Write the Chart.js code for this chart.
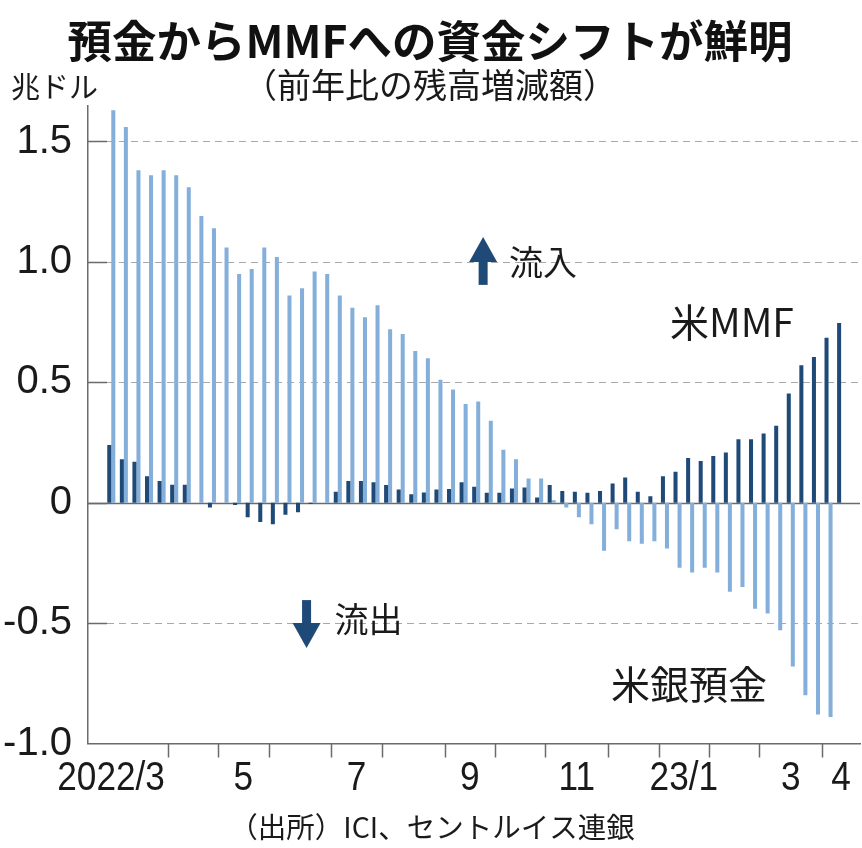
<!DOCTYPE html>
<html lang="ja">
<head>
<meta charset="utf-8">
<title>預金からMMFへの資金シフトが鮮明</title>
<script src="https://cdn.jsdelivr.net/npm/chart.js@4"></script>
<style>
  html, body { margin: 0; padding: 0; background: #fff; }
</style>
</head>
<body>
<canvas id="chart" width="862" height="848"></canvas>
<script>
// weekly data, 2022/3 first week .. 2023/4 second week (59 weeks), trillion dollars, YoY change
const monthLabels = ['2022/3', '', '5', '', '7', '', '9', '', '11', '', '23/1', '', '3', '4'];
const weeksPerMonth = [5, 4, 4, 5, 4, 5, 4, 4, 5, 4, 4, 4, 5, 2];

const mmf = [
  0.24, 0.18, 0.17, 0.11, 0.09, 0.075, 0.075, 0, -0.02, 0,
  -0.01, -0.06, -0.08, -0.09, -0.05, -0.04, -0.005, 0, 0.045, 0.09,
  0.09, 0.085, 0.073, 0.055, 0.035, 0.042, 0.055, 0.057, 0.085, 0.066,
  0.041, 0.041, 0.059, 0.063, 0.022, 0.073, 0.049, 0.045, 0.041, 0.049,
  0.08, 0.105, 0.045, 0.027, 0.11, 0.128, 0.186, 0.173, 0.194, 0.208,
  0.263, 0.263, 0.287, 0.319, 0.453, 0.571, 0.605, 0.685, 0.746
];
const deposits = [
  1.63, 1.56, 1.38, 1.36, 1.38, 1.36, 1.31, 1.19, 1.14, 1.06,
  0.95, 0.97, 1.06, 1.02, 0.86, 0.89, 0.96, 0.95, 0.86, 0.81,
  0.77, 0.82, 0.72, 0.70, 0.63, 0.60, 0.51, 0.47, 0.41, 0.42,
  0.34, 0.22, 0.18, 0.10, 0.10, 0.01, -0.02, -0.06, -0.09, -0.20,
  -0.11, -0.16, -0.17, -0.16, -0.19, -0.27, -0.29, -0.27, -0.29, -0.37,
  -0.35, -0.44, -0.46, -0.53, -0.68, -0.80, -0.88, -0.89, null
];
const yTicks = [-1, -0.5, 0, 0.5, 1, 1.5];

const DARK = '#1f4a78';
const LIGHT = '#84afda';
const AXIS = '#6b6b6b';
const TEXT = '#1a1a1a';
const JP = '"Noto Sans CJK JP", "Noto Sans", sans-serif';
const NUM = '"Liberation Sans", Arial, sans-serif';

// dashed grid, solid zero line and short inner tick marks on the value axis
const gridPlugin = {
  id: 'gridLines',
  beforeDatasetsDraw(chart) {
    const { ctx, chartArea: a, scales: { y } } = chart;
    ctx.save();
    yTicks.forEach(v => {
      if (v === yTicks[0]) return;
      const py = Math.round(y.getPixelForValue(v)) + 0.5;
      ctx.beginPath();
      if (v === 0) {
        ctx.setLineDash([]);
        ctx.strokeStyle = AXIS;
        ctx.lineWidth = 1.5;
        ctx.moveTo(a.left, py);
      } else {
        ctx.setLineDash([7, 5]);
        ctx.strokeStyle = '#a8a8a8';
        ctx.lineWidth = 1;
        ctx.moveTo(a.left + 19, py);
      }
      ctx.lineTo(a.right, py);
      ctx.stroke();
      ctx.setLineDash([]);
      ctx.beginPath();
      ctx.strokeStyle = AXIS;
      ctx.lineWidth = 1.5;
      ctx.moveTo(a.left, py);
      ctx.lineTo(a.left + 19, py);
      ctx.stroke();
    });
    ctx.restore();
  }
};

function arrow(ctx, cx, cy, dir) {
  // dir: -1 up, 1 down; cy is where the head meets the shaft
  ctx.beginPath();
  ctx.moveTo(cx - 14, cy);
  ctx.lineTo(cx, cy + dir * 25);
  ctx.lineTo(cx + 14, cy);
  ctx.closePath();
  ctx.fill();
  ctx.fillRect(cx - 4.5, dir < 0 ? cy - 1 : cy - 23, 9, 24);
}

// narrow numerals, like the condensed face in the original
function narrowText(ctx, text, px, py, align) {
  const k = 0.88;
  ctx.save();
  ctx.translate(px, py);
  ctx.scale(k, 1);
  ctx.textAlign = align;
  ctx.fillText(text, 0, 0);
  ctx.restore();
}

// month ticks under the time axis, month labels, notes
const notesPlugin = {
  id: 'notes',
  afterDraw(chart) {
    const { ctx, chartArea: a, scales: { x, y } } = chart;
    ctx.save();

    // month boundaries
    const bounds = [];
    let n = 0;
    weeksPerMonth.forEach(w => {
      bounds.push({ start: n, end: n + w });
      n += w;
    });
    ctx.strokeStyle = AXIS;
    ctx.lineWidth = 1.5;
    bounds.slice(0, -1).forEach(b => {
      const px = Math.round(x.getPixelForValue(b.end - 0.5)) + 0.5;
      ctx.beginPath();
      ctx.moveTo(px, a.bottom);
      ctx.lineTo(px, a.bottom + 14);
      ctx.stroke();
    });

    ctx.fillStyle = TEXT;
    ctx.font = '40px ' + NUM;
    ctx.textBaseline = 'middle';
    bounds.forEach((b, i) => {
      const label = monthLabels[i];
      if (!label) return;
      const left = x.getPixelForValue(b.start - 0.5);
      const right = i === bounds.length - 1 ? a.right : x.getPixelForValue(b.end - 0.5);
      if (i === 0) {
        narrowText(ctx, label, right - 3, a.bottom + 35, 'right');
      } else {
        narrowText(ctx, label, (left + right) / 2, a.bottom + 35, 'center');
      }
    });

    // unit
    ctx.textAlign = 'left';
    ctx.font = '29px ' + JP;
    ctx.fillText('兆ドル', 11, 87);

    // inflow / outflow
    ctx.fillStyle = DARK;
    const upX = x.getPixelForValue(29.55);
    arrow(ctx, upX, y.getPixelForValue(1.0), -1);
    const downX = x.getPixelForValue(15.52);
    arrow(ctx, downX, y.getPixelForValue(-0.5), 1);

    ctx.fillStyle = TEXT;
    ctx.font = '34px ' + JP;
    ctx.fillText('流入', upX + 26, y.getPixelForValue(1.0));
    ctx.fillText('流出', downX + 28, y.getPixelForValue(-0.5) - 4);

    ctx.font = '39px ' + JP;
    ctx.fillText('米MMF', 670, y.getPixelForValue(0.75));
    ctx.fillText('米銀預金', 611, y.getPixelForValue(-0.755));

    // source
    ctx.textAlign = 'center';
    ctx.font = '28.5px ' + JP;
    ctx.fillText('（出所）ICI、セントルイス連銀', 432, 827);

    ctx.restore();
  }
};

new Chart(document.getElementById('chart'), {
  type: 'bar',
  data: {
    datasets: [
      {
        label: '米MMF',
        data: mmf.map((v, i) => ({ x: i, y: v })),
        backgroundColor: DARK
      },
      {
        label: '米銀預金',
        data: deposits.map((v, i) => ({ x: i, y: v })),
        backgroundColor: LIGHT
      }
    ]
  },
  options: {
    responsive: false,
    animation: false,
    layout: { padding: { top: 19.25, right: 2, left: 0, bottom: 0 } },
    datasets: {
      bar: { categoryPercentage: 0.64, barPercentage: 1 }
    },
    scales: {
      x: {
        type: 'linear',
        offset: false,
        min: -1.85,
        max: 59.5,
        grid: { display: false, drawTicks: false, offset: false },
        ticks: { display: false },
        border: { color: AXIS, width: 1.5 },
        afterFit: s => { s.height = 104.5; }
      },
      y: {
        min: -1,
        max: 1.65,
        grid: { display: false, drawTicks: false },
        border: { color: AXIS, width: 1.5 },
        ticks: {
          stepSize: 0.5,
          includeBounds: false,
          padding: 16,
          color: TEXT,
          font: { family: NUM, size: 40 },
          callback: v => (v === 0 ? '0' : v.toFixed(1))
        },
        afterFit: s => { s.width = 88; }
      }
    },
    plugins: {
      legend: { display: false },
      tooltip: { enabled: false },
      title: {
        display: true,
        text: '預金からMMFへの資金シフトが鮮明',
        color: '#111',
        font: { family: JP, size: 44.5, weight: 'bold', lineHeight: 1.0 },
        padding: { top: 0, bottom: 0 }
      },
      subtitle: {
        display: true,
        text: '（前年比の残高増減額）',
        color: TEXT,
        font: { family: JP, size: 34, lineHeight: 1.2 },
        padding: { top: 0.8, bottom: 0 }
      }
    }
  },
  plugins: [gridPlugin, notesPlugin]
});
</script>
</body>
</html>
